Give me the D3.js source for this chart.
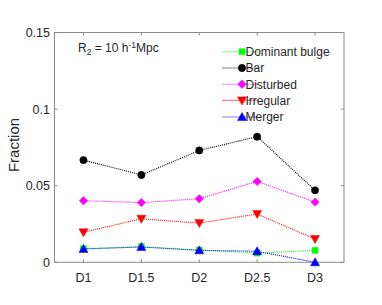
<!DOCTYPE html>
<html><head><meta charset="utf-8">
<script src="https://cdn.jsdelivr.net/npm/d3@7"></script>
<style>body{margin:0;background:#fff}svg{display:block}text{font-family:"Liberation Sans",Arial,sans-serif;fill:#262626}</style>
</head><body><svg id="c" width="382" height="305"></svg>
<script>
const categories = ["D1","D1.5","D2","D2.5","D3"];
const yTicks = [0, 0.05, 0.1, 0.15];
const yTickLabels = ["0","0.05","0.1","0.15"];
const seriesNames = ["Dominant bulge","Bar","Disturbed","Irregular","Merger"];
const dominantBulge = [0.0089, 0.0102, 0.0080, 0.0060, 0.0078];
const bar = [0.0667, 0.0570, 0.0730, 0.0820, 0.0470];
const disturbed = [0.0402, 0.0390, 0.0415, 0.0528, 0.0393];
const irregular = [0.0196, 0.0284, 0.0256, 0.0315, 0.0152];
const merger = [0.0087, 0.0100, 0.0078, 0.0072, 0.0000];
const colors = ["#00ff00","#000000","#ff00ff","#ff0000","#0000ff"];
const markerTypes = ["square","circle","diamond","tdown","tup"];
const allSeries = [dominantBulge, bar, disturbed, irregular, merger];

const svg = d3.select("#c");
const L=54.5, R=344, T=32.5, B=262.3;
const x = d3.scaleLinear().domain([0.5, 5.5]).range([L, R]);
const y = d3.scaleLinear().domain([0, 0.15]).range([B, T]);
const boxCol = "#8a8a8a";

svg.append("rect").attr("x",L).attr("y",T).attr("width",R-L).attr("height",B-T)
  .attr("fill","none").attr("stroke",boxCol).attr("stroke-width",1);

const tl = 3;
categories.forEach((c,i)=>{
  const v=i+1;
  svg.append("line").attr("x1",x(v)).attr("x2",x(v)).attr("y1",B).attr("y2",B-tl).attr("stroke",boxCol);
  svg.append("line").attr("x1",x(v)).attr("x2",x(v)).attr("y1",T).attr("y2",T+tl).attr("stroke",boxCol);
  svg.append("text").attr("x",x(v)).attr("y",281.5).attr("text-anchor","middle")
    .attr("font-size","12.5px").text(c);
});
yTicks.forEach((v,i)=>{
  svg.append("line").attr("x1",L).attr("x2",L+tl).attr("y1",y(v)).attr("y2",y(v)).attr("stroke",boxCol);
  svg.append("line").attr("x1",R).attr("x2",R-tl).attr("y1",y(v)).attr("y2",y(v)).attr("stroke",boxCol);
  svg.append("text").attr("x",L-4.5).attr("y",y(v)+4.5).attr("text-anchor","end")
    .attr("font-size","12.5px").text(yTickLabels[i]);
});
svg.append("text").attr("transform","translate(18.5,145) rotate(-90)").attr("text-anchor","middle")
  .attr("font-size","15px").text("Fraction");

function markerPath(t){
  switch(t){
    case "square": return "M-3,-3H3V3H-3Z";
    case "circle": return d3.symbol().type(d3.symbolCircle).size(42)();
    case "diamond": return "M0,-4.2L4.2,0L0,4.2L-4.2,0Z";
    case "tdown": return "M-4.5,-3.5L4.5,-3.5L0,4.5Z";
    case "tup": return "M-4.5,3.5L4.5,3.5L0,-4.5Z";
  }
}

const line = d3.line().x((d,i)=>x(i+1)).y(d=>y(d));
allSeries.forEach((s,k)=>{
  svg.append("path").attr("d",line(s)).attr("fill","none").attr("stroke",colors[k])
    .attr("stroke-width",1.1).attr("stroke-dasharray","1,1");
  svg.selectAll(null).data(s).enter().append("path")
    .attr("d",markerPath(markerTypes[k])).attr("transform",(d,i)=>`translate(${x(i+1)},${y(d)})`)
    .attr("fill",colors[k]).attr("stroke",colors[k]).attr("stroke-width",0.5);
});

// legend
const lx0=222.5, lx1=257.5, lm=242, ltx=245.5;
const ly = [51.7, 68, 84.2, 100.4, 117];
svg.append("rect").attr("x",218).attr("y",42).attr("width",118).attr("height",84).attr("fill","#fff");
seriesNames.forEach((n,k)=>{
  svg.append("line").attr("x1",lx0).attr("x2",lx1).attr("y1",ly[k]).attr("y2",ly[k])
    .attr("stroke",colors[k]).attr("stroke-width",1.1).attr("stroke-dasharray","1,1");
  svg.append("path").attr("d",markerPath(markerTypes[k])).attr("transform",`translate(${lm},${ly[k]})`)
    .attr("fill",colors[k]).attr("stroke",colors[k]).attr("stroke-width",0.5);
  svg.append("text").attr("x",ltx).attr("y",ly[k]+4.3).attr("font-size","12px").text(n);
});

// annotation
const ann = svg.append("text").attr("x",78).attr("y",52).attr("font-size","12px");
ann.append("tspan").text("R");
ann.append("tspan").attr("dy",3).attr("font-size","8.5px").text("2");
ann.append("tspan").attr("dy",-3).text(" = 10 h");
ann.append("tspan").attr("dy",-4.5).attr("font-size","8.5px").text("-1");
ann.append("tspan").attr("dy",4.5).text("Mpc");
</script></body></html>
